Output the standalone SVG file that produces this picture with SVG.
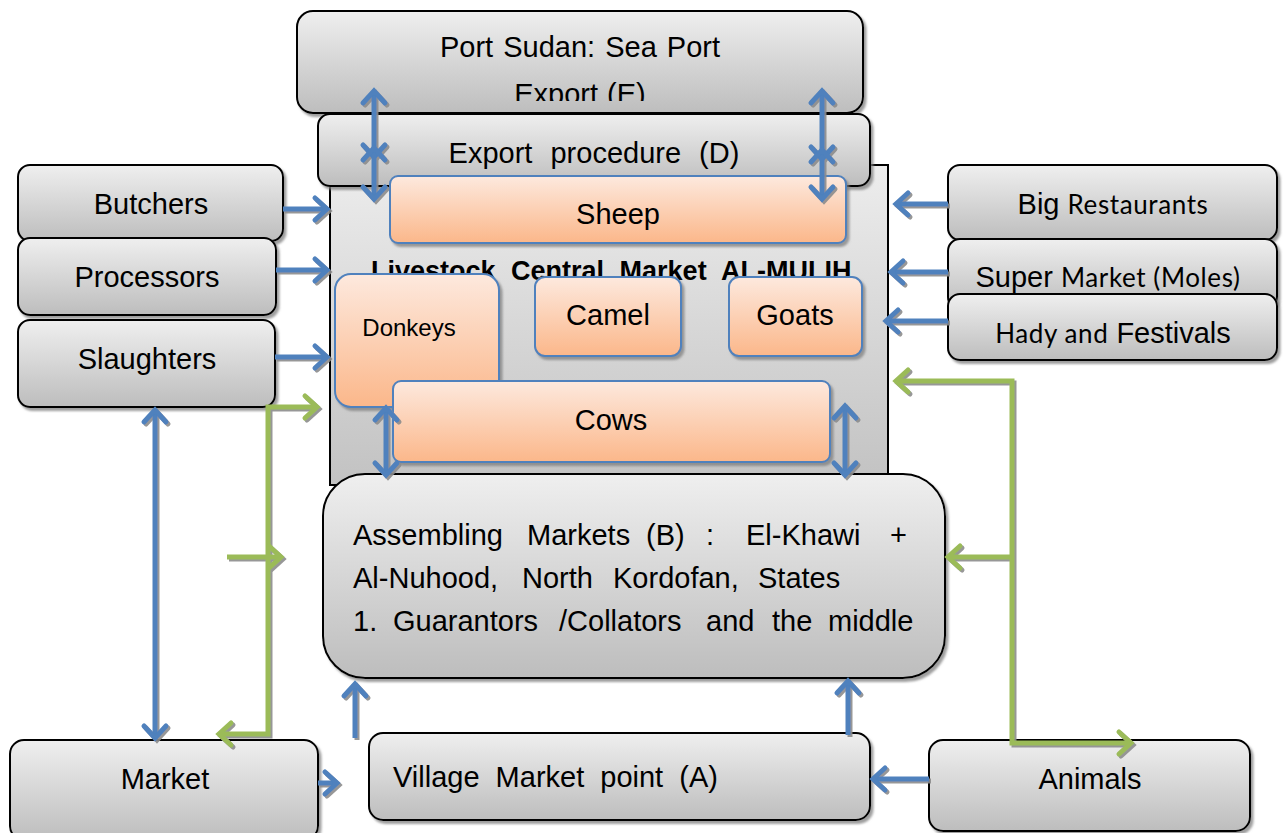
<svg xmlns="http://www.w3.org/2000/svg" width="1284" height="833" viewBox="0 0 1284 833">
  <defs>
    <linearGradient id="gGray" x1="0" y1="0" x2="0" y2="1">
      <stop offset="0" stop-color="#efefef"/>
      <stop offset="1" stop-color="#bdbdbd"/>
    </linearGradient>
    <linearGradient id="gCentral" x1="0" y1="0" x2="0" y2="1">
      <stop offset="0" stop-color="#ededed"/>
      <stop offset="1" stop-color="#c2c2c2"/>
    </linearGradient>
    <linearGradient id="gOrange" x1="0" y1="0" x2="0" y2="1">
      <stop offset="0" stop-color="#fde9de"/>
      <stop offset="1" stop-color="#fbb78a"/>
    </linearGradient>
    <filter id="shadow" x="-10%" y="-10%" width="130%" height="140%">
      <feDropShadow dx="2.5" dy="3" stdDeviation="1.2" flood-color="#7f7f7f" flood-opacity="0.75"/>
    </filter>
    <filter id="lineShadow" x="-20%" y="-20%" width="160%" height="160%">
      <feDropShadow dx="2" dy="2" stdDeviation="0.6" flood-color="#8c8c8c" flood-opacity="0.9"/>
    </filter>
    <marker id="hBlue" markerUnits="userSpaceOnUse" markerWidth="24" markerHeight="28" refX="16" refY="14" orient="auto-start-reverse" overflow="visible">
      <path d="M4,3 L16,14 L4,25" fill="none" stroke="#4f81bd" stroke-width="5" stroke-linecap="round" stroke-linejoin="miter"/>
    </marker>
    <marker id="hGreen" markerUnits="userSpaceOnUse" markerWidth="24" markerHeight="28" refX="16" refY="14" orient="auto-start-reverse" overflow="visible">
      <path d="M4,3 L16,14 L4,25" fill="none" stroke="#9bbb59" stroke-width="5" stroke-linecap="round" stroke-linejoin="miter"/>
    </marker>
    <clipPath id="clipPort">
      <rect x="297" y="0" width="566" height="101"/>
    </clipPath>
    <style>
      .box { fill: url(#gGray); stroke: #000; stroke-width: 2; filter: url(#shadow); }
      .obox { fill: url(#gOrange); stroke: #4f81bd; stroke-width: 2; filter: url(#shadow); }
      .t { font-family: "Liberation Sans", Arial, sans-serif; font-size: 29px; fill: #000; }
      .c { text-anchor: middle; }
      .cal { font-family: Lato, "Open Sans", sans-serif; font-size: 26px; letter-spacing: 0.6px; }
      .title { font-size: 27px; font-weight: bold; word-spacing: 8px; }
      .small { font-size: 24px; }
      .blue { fill: none; stroke: #4f81bd; stroke-width: 5; marker-end: url(#hBlue); }
      .blue2 { marker-start: url(#hBlue); }
      .green { fill: none; stroke: #9bbb59; stroke-width: 5; marker-end: url(#hGreen); }
      .green2 { marker-start: url(#hGreen); }
    </style>
  </defs>

  <rect width="1284" height="833" fill="#ffffff"/>

  <!-- Livestock central market frame -->
  <g id="central-market">
    <rect x="330" y="165" width="558" height="320" fill="url(#gCentral)" stroke="#000" stroke-width="2"/>
  </g>

  <!-- Export chain -->
  <g id="port-sudan">
    <rect class="box" x="297" y="11" width="566" height="102" rx="16"/>
    <text class="t c" x="580" y="57" word-spacing="2">Port Sudan: Sea Port</text>
    <text class="t c" x="580" y="104" word-spacing="1" clip-path="url(#clipPort)">Export (E)</text>
  </g>
  <g id="export-procedure">
    <rect class="box" x="318" y="114" width="552" height="72" rx="12"/>
    <text class="t c" x="594" y="163" word-spacing="10">Export procedure (D)</text>
  </g>

  <!-- Animal groups inside the central market -->
  <g id="sheep">
    <rect class="obox" x="390" y="176" width="456" height="67" rx="8"/>
    <text class="t c" x="618" y="224">Sheep</text>
  </g>
  <g id="central-title">
    <text class="t title" x="371" y="280">Livestock Central Market AL-MULIH</text>
  </g>
  <g id="donkeys">
    <rect class="obox" x="335" y="274" width="164" height="133" rx="16"/>
    <text class="t c small" x="409" y="336">Donkeys</text>
  </g>
  <g id="camel">
    <rect class="obox" x="535" y="277" width="146" height="79" rx="10"/>
    <text class="t c" x="608" y="325">Camel</text>
  </g>
  <g id="goats">
    <rect class="obox" x="729" y="277" width="133" height="79" rx="10"/>
    <text class="t c" x="795" y="325">Goats</text>
  </g>
  <g id="cows">
    <rect class="obox" x="393" y="381" width="437" height="81" rx="8"/>
    <text class="t c" x="611" y="430">Cows</text>
  </g>

  <!-- Assembling markets -->
  <g id="assembling-markets">
    <rect class="box" x="323" y="474" width="622" height="204" rx="42"/>
    <text class="t" y="545"><tspan x="353">Assembling</tspan><tspan x="527">Markets</tspan><tspan x="646">(B)</tspan><tspan x="706">:</tspan><tspan x="746">El-Khawi</tspan><tspan x="890">+</tspan></text>
    <text class="t" y="588"><tspan x="353">Al-Nuhood,</tspan><tspan x="522">North</tspan><tspan x="613">Kordofan,</tspan><tspan x="758">States</tspan></text>
    <text class="t" y="631"><tspan x="353">1.</tspan><tspan x="393">Guarantors</tspan><tspan x="559">/Collators</tspan><tspan x="706">and</tspan><tspan x="772">the</tspan><tspan x="828">middle</tspan></text>
  </g>

  <!-- Buyers on the left -->
  <g id="butchers">
    <rect class="box" x="18" y="165" width="265" height="76" rx="12"/>
    <text class="t c" x="151" y="214">Butchers</text>
  </g>
  <g id="processors">
    <rect class="box" x="18" y="238" width="258" height="77" rx="12"/>
    <text class="t c" x="147" y="287">Processors</text>
  </g>
  <g id="slaughters">
    <rect class="box" x="18" y="320" width="257" height="87" rx="12"/>
    <text class="t c" x="147" y="369">Slaughters</text>
  </g>

  <!-- Buyers on the right -->
  <g id="big-restaurants">
    <rect class="box" x="948" y="165" width="329" height="75" rx="12"/>
    <text class="t c" x="1113" y="214">Big <tspan class="cal">Restaurants</tspan></text>
  </g>
  <g id="super-market">
    <rect class="box" x="948" y="239" width="329" height="70" rx="12"/>
    <text class="t c" x="1108" y="287">Super <tspan class="cal">Market (Moles)</tspan></text>
  </g>
  <g id="hady-festivals">
    <rect class="box" x="948" y="294" width="329" height="66" rx="12"/>
    <text class="t c" x="1113" y="343"><tspan class="cal">Hady and</tspan> Festivals</text>
  </g>

  <!-- Bottom row -->
  <g id="market">
    <rect class="box" x="10" y="740" width="308" height="100" rx="14"/>
    <text class="t c" x="165" y="789">Market</text>
  </g>
  <g id="village-market">
    <rect class="box" x="369" y="733" width="501" height="87" rx="14"/>
    <text class="t" x="393" y="787" word-spacing="8">Village Market point (A)</text>
  </g>
  <g id="animals">
    <rect class="box" x="929" y="740" width="321" height="91" rx="14"/>
    <text class="t c" x="1090" y="789">Animals</text>
  </g>

  <!-- Connectors -->
  <g id="connectors" filter="url(#lineShadow)">
    <!-- export chain -->
    <path class="blue blue2" d="M374,91 V157"/>
    <path class="blue blue2" d="M374,148 V199"/>
    <path class="blue blue2" d="M822,91 V159"/>
    <path class="blue blue2" d="M822,150 V199"/>
    <!-- buyers into the central market -->
    <path class="blue" d="M283,209 H327"/>
    <path class="blue" d="M276,270 H327"/>
    <path class="blue" d="M275,357 H327"/>
    <path class="blue" d="M948,204 H896"/>
    <path class="blue" d="M948,272 H891"/>
    <path class="blue" d="M948,321 H886"/>
    <!-- central market and assembling markets -->
    <path class="blue blue2" d="M386,408 V475"/>
    <path class="blue blue2" d="M845,406 V475"/>
    <!-- slaughters and market -->
    <path class="blue blue2" d="M155,410 V738"/>
    <!-- village point up to assembling markets -->
    <path class="blue" d="M355,738 V684"/>
    <path class="blue" d="M848,735 V681"/>
    <!-- into village point -->
    <path class="blue" d="M318,783 H337"/>
    <path class="blue" d="M929,779 H873"/>
    <!-- green flows -->
    <path class="green green2" d="M219,734 H268 V407 H317"/>
    <path class="green" d="M227,557 H281"/>
    <path class="green green2" d="M896,381 H1012 V743 H1131"/>
    <path class="green" d="M1012,557 H948"/>
  </g>
</svg>
